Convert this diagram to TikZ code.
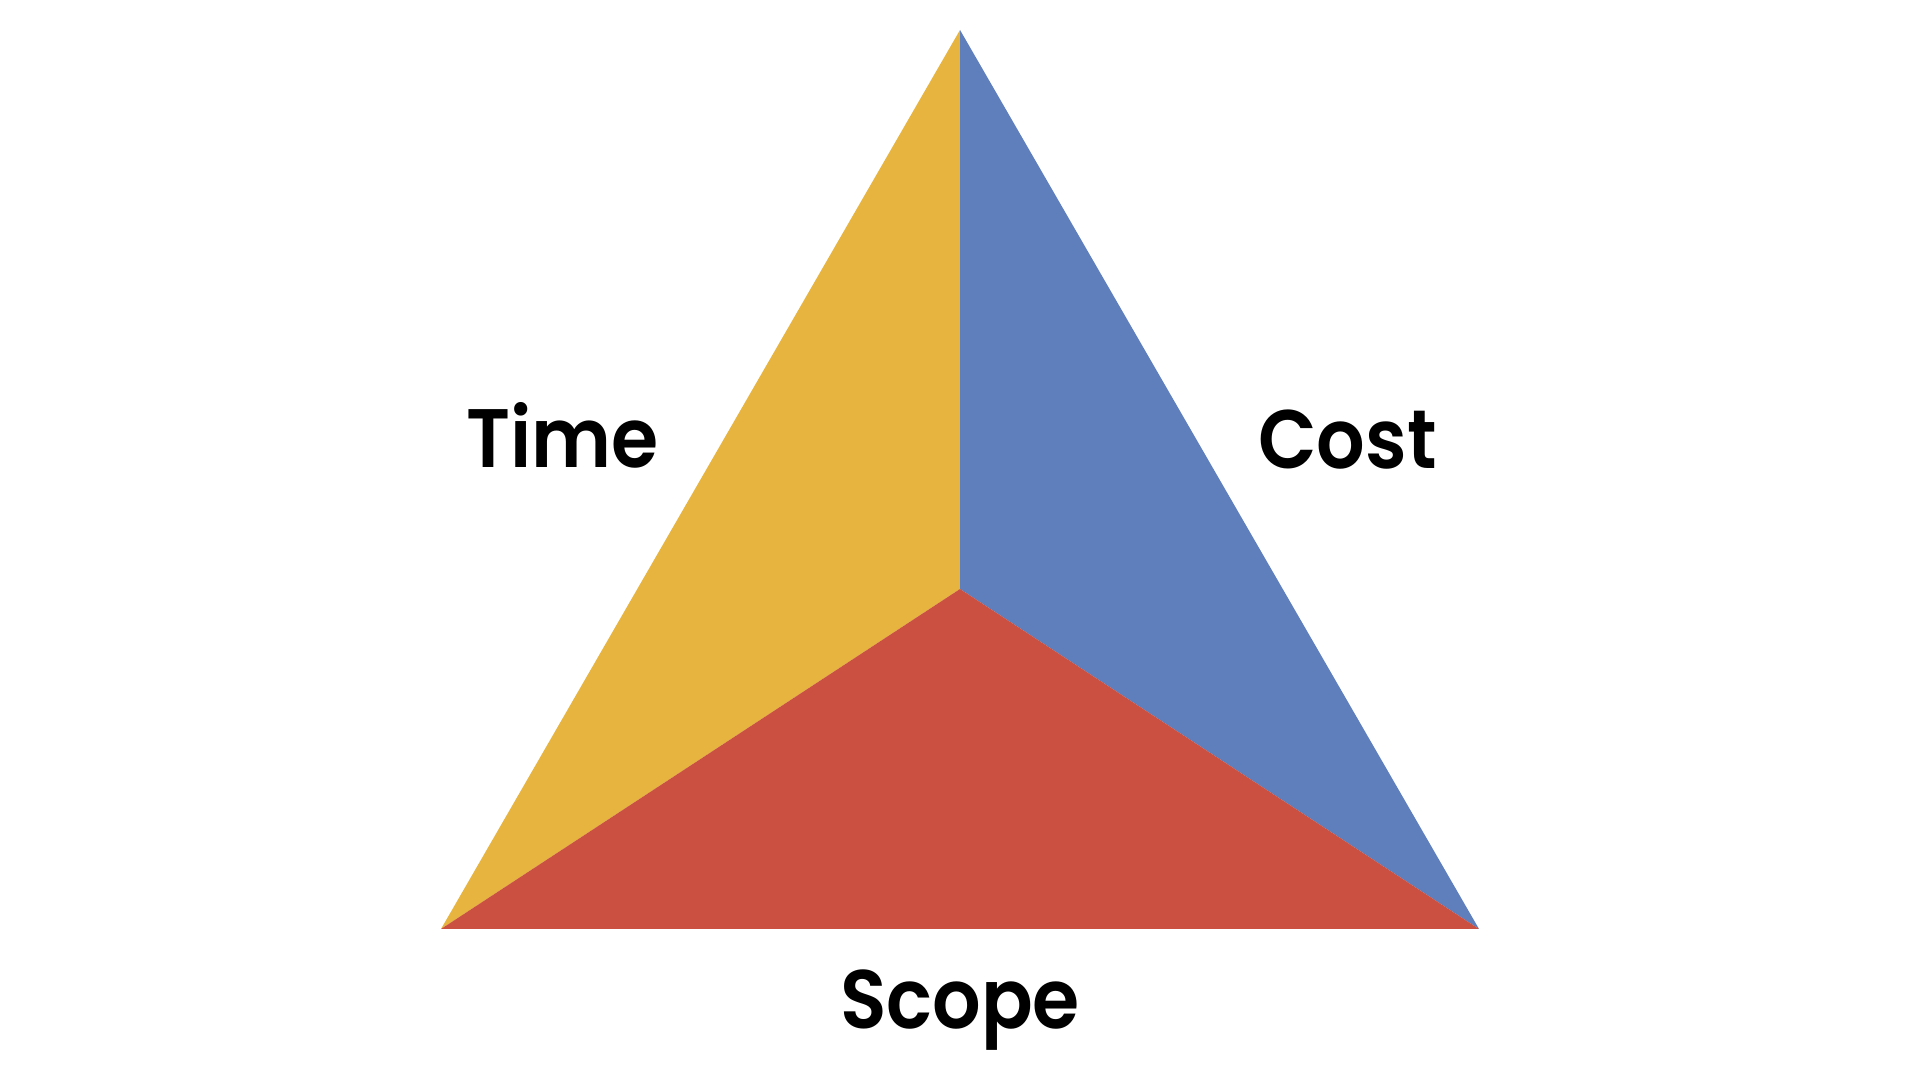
\documentclass[tikz,border=0pt]{standalone}
\usepackage{fontspec}
\setmainfont{Poppins}[BoldFont={Poppins SemiBold}]
\usepackage{xcolor}
\definecolor{timeyellow}{RGB}{232,180,64}
\definecolor{costblue}{RGB}{94,126,188}
\definecolor{scopered}{RGB}{203,80,65}

\begin{document}
\begin{tikzpicture}[facelabel/.style={font=\bfseries\fontsize{23.6}{28}\selectfont, anchor=base, inner sep=0, xscale=0.92}]
\useasboundingbox (0,0) rectangle (19.2,10.8);
\coordinate (top) at (9.6,10.5);
\coordinate (left) at (4.41,1.51);
\coordinate (right) at (14.79,1.51);
\coordinate (mid) at (9.6,4.91);
\fill[timeyellow] (top)--(left)--(mid)--cycle;
\fill[costblue] (top)--(mid)--(right)--cycle;
\fill[scopered] (left)--(right)--(mid)--cycle;
\foreach \name/\x/\y in {Time/5.625/6.12, Cost/13.475/6.11, Scope/9.60/0.51} {
 \node[facelabel] (\name) at (\x,\y) {\name};
}
\end{tikzpicture}
\end{document}
